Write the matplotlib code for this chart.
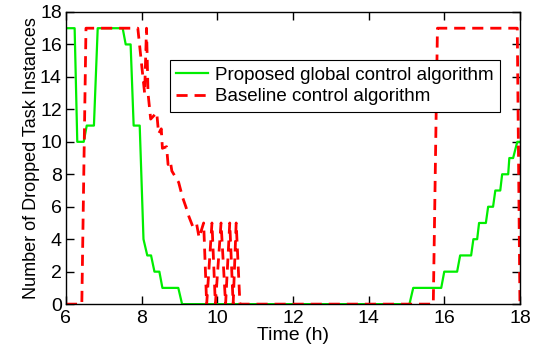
import numpy as np
import matplotlib
matplotlib.use("Agg")
import matplotlib.pyplot as plt

# proposed global control algorithm (time in h, dropped instances)
t_prop = [6.05, 6.23, 6.30, 6.47, 6.55, 6.74, 6.84, 7.50, 7.58, 7.71, 7.79, 7.95,
          8.05, 8.15, 8.25, 8.34, 8.47, 8.55, 8.97, 9.07, 15.08, 15.18, 15.92, 16.00,
          16.34, 16.42, 16.71, 16.77, 16.87, 16.92, 17.10, 17.16, 17.29, 17.35,
          17.48, 17.53, 17.69, 17.72, 17.82, 17.93, 18.00]
v_prop = [17, 17, 10, 10, 11, 11, 17, 17, 16, 16, 11, 11,
          4, 3, 3, 2, 2, 1, 1, 0, 0, 1, 1, 2,
          2, 3, 3, 4, 4, 5, 5, 6, 6, 7,
          7, 8, 8, 9, 9, 10, 10]

# baseline control algorithm
t_base = [6.00, 6.42, 6.53, 7.90, 8.08, 8.13, 8.17, 8.24, 8.40, 8.45, 8.52, 8.55,
          8.66, 8.70, 8.76, 8.80, 8.98, 9.08, 9.17, 9.25, 9.35, 9.45, 9.52, 9.64,
          9.72, 9.86, 9.95, 10.10, 10.22, 10.33, 10.42, 10.50, 10.60, 15.71, 15.82,
          17.93, 18.00]
v_base = [0, 0, 17, 17, 13, 17, 13, 11.4, 11.8, 10.5, 10.8, 9.6,
          9.7, 8.6, 8.8, 8.2, 7.5, 6.6, 6.0, 5.4, 4.8, 5.0, 4.1, 5,
          0, 5, 0, 5, 0, 5, 0, 5, 0, 0, 17,
          17, 0]

x_ticks = [6, 8, 10, 12, 14, 16, 18]
y_ticks = [0, 2, 4, 6, 8, 10, 12, 14, 16, 18]

plt.rcParams['font.family'] = ['Liberation Sans', 'DejaVu Sans']
plt.rcParams['font.size'] = 14

fig = plt.figure(figsize=(5.36, 3.52), dpi=100)
ax = fig.add_axes([0.123, 0.136, 0.847, 0.830])

ax.plot(t_prop, v_prop, color='#00ee00', lw=1.6, label='Proposed global control algorithm')
ax.plot(t_base, v_base, color='#ff0000', lw=2.0, ls=(0, (4, 2.5)),
        label='Baseline control algorithm')

ax.set_xlim(6, 18)
ax.set_ylim(0, 18)
ax.set_xticks(x_ticks)
ax.set_yticks(y_ticks)
ax.tick_params(direction='in', top=True, right=True, length=6, width=1, labelsize=14)
ax.tick_params(axis='x', pad=4)
ax.tick_params(axis='y', pad=3)
for s in ax.spines.values():
    s.set_linewidth(1)

ax.set_xlabel('Time (h)', labelpad=0, fontsize=14)
ax.set_ylabel('Number of Dropped Task Instances', labelpad=0, fontsize=13)

leg = ax.legend(loc='upper left', bbox_to_anchor=(0.229, 0.836), fancybox=False,
                edgecolor='black', framealpha=1, borderpad=0.35, handlelength=1.7,
                handletextpad=0.35, labelspacing=0.25, borderaxespad=0, fontsize=13.5)
leg.get_frame().set_linewidth(0.8)

fig.savefig('out.png', dpi=100)
